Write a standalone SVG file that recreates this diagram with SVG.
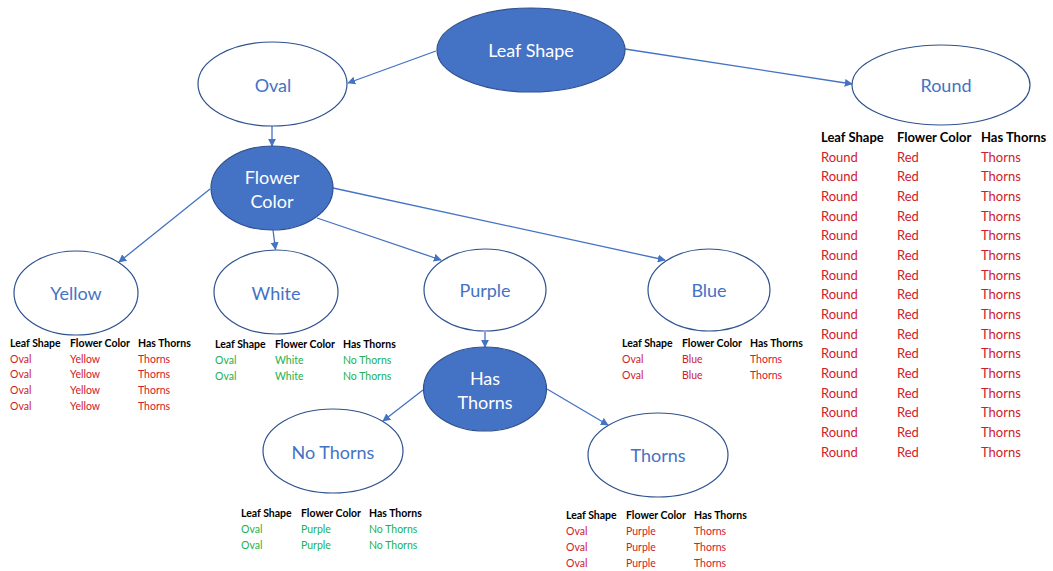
<svg xmlns="http://www.w3.org/2000/svg" width="1053" height="571" viewBox="0 0 1053 571">
<style>
.bg{fill:#ffffff}
.dark ellipse{fill:#4472C4;stroke:#2F528F;stroke-width:1.2}
.light ellipse{fill:#ffffff;stroke:#2F528F;stroke-width:1.2}
.dark text{fill:#ffffff;font-family:Lato,"Liberation Sans",sans-serif;font-size:18px;text-anchor:middle;dominant-baseline:central}
.light text{fill:#4472C4;font-family:Lato,"Liberation Sans",sans-serif;font-size:18px;text-anchor:middle;dominant-baseline:central}
.edges line{stroke:#4472C4;stroke-width:1.3;fill:none}
.tbl text{font-family:Lato,"Liberation Sans",sans-serif;dominant-baseline:central}
.s text{font-size:10.5px}
.b text{font-size:13px}
text.h{font-weight:bold;fill:#000000}
text.r{fill:#D0202A}
text.g{fill:#22B050}
</style>
<defs>
<marker id="arr" viewBox="0 0 10 10" refX="9" refY="5" markerWidth="8" markerHeight="8" markerUnits="userSpaceOnUse" orient="auto">
<path d="M0,0 L10,5 L0,10 z" fill="#4472C4"/>
</marker>
</defs>
<rect class="bg" x="0" y="0" width="1053" height="571"/>

<g id="connectors" class="edges">
<line x1="436" y1="51" x2="348" y2="83" marker-end="url(#arr)"/>
<line x1="625" y1="49" x2="852" y2="84" marker-end="url(#arr)"/>
<line x1="272" y1="126" x2="272" y2="146" marker-end="url(#arr)"/>
<line x1="210" y1="189" x2="119" y2="262" marker-end="url(#arr)"/>
<line x1="273" y1="230" x2="275.5" y2="249.5" marker-end="url(#arr)"/>
<line x1="317" y1="218" x2="441" y2="260" marker-end="url(#arr)"/>
<line x1="333" y1="188" x2="665" y2="260" marker-end="url(#arr)"/>
<line x1="485" y1="332" x2="485" y2="347" marker-end="url(#arr)"/>
<line x1="423" y1="390" x2="383" y2="421" marker-end="url(#arr)"/>
<line x1="547" y1="389" x2="608" y2="425" marker-end="url(#arr)"/>
</g>

<g id="leaf-shape" class="dark">
<ellipse cx="531" cy="50" rx="94" ry="42"/>
<text x="531" y="50">Leaf Shape</text>
</g>
<g id="oval" class="light">
<ellipse cx="272.5" cy="84" rx="74.5" ry="42"/>
<text x="273" y="85">Oval</text>
</g>
<g id="round" class="light">
<ellipse cx="941" cy="85" rx="89" ry="40"/>
<text x="946" y="85">Round</text>
</g>
<g id="flower-color" class="dark">
<ellipse cx="272" cy="188" rx="61" ry="42"/>
<text x="272" y="177">Flower</text>
<text x="272" y="201">Color</text>
</g>
<g id="yellow" class="light">
<ellipse cx="76" cy="293" rx="62" ry="42"/>
<text x="76" y="293">Yellow</text>
</g>
<g id="white" class="light">
<ellipse cx="276" cy="292" rx="62" ry="42"/>
<text x="276" y="293">White</text>
</g>
<g id="purple" class="light">
<ellipse cx="485" cy="290" rx="61" ry="41"/>
<text x="485" y="290">Purple</text>
</g>
<g id="blue" class="light">
<ellipse cx="709" cy="290" rx="61" ry="41"/>
<text x="709" y="290">Blue</text>
</g>
<g id="has-thorns" class="dark">
<ellipse cx="485" cy="389" rx="61.5" ry="42"/>
<text x="485" y="378">Has</text>
<text x="485" y="402">Thorns</text>
</g>
<g id="no-thorns" class="light">
<ellipse cx="333" cy="451" rx="70" ry="42"/>
<text x="333" y="452">No Thorns</text>
</g>
<g id="thorns" class="light">
<ellipse cx="658" cy="455" rx="70" ry="42"/>
<text x="658" y="455">Thorns</text>
</g>

<g id="table-yellow" class="tbl s">
<text class="h" x="10" y="343">Leaf Shape</text><text class="h" x="70" y="343">Flower Color</text><text class="h" x="138" y="343">Has Thorns</text>
<text class="r" x="10" y="359">Oval</text><text class="r" x="70" y="359">Yellow</text><text class="r" x="138" y="359">Thorns</text>
<text class="r" x="10" y="374">Oval</text><text class="r" x="70" y="374">Yellow</text><text class="r" x="138" y="374">Thorns</text>
<text class="r" x="10" y="390">Oval</text><text class="r" x="70" y="390">Yellow</text><text class="r" x="138" y="390">Thorns</text>
<text class="r" x="10" y="406">Oval</text><text class="r" x="70" y="406">Yellow</text><text class="r" x="138" y="406">Thorns</text>
</g>
<g id="table-white" class="tbl s">
<text class="h" x="215" y="344">Leaf Shape</text><text class="h" x="275" y="344">Flower Color</text><text class="h" x="343" y="344">Has Thorns</text>
<text class="g" x="215" y="360">Oval</text><text class="g" x="275" y="360">White</text><text class="g" x="343" y="360">No Thorns</text>
<text class="g" x="215" y="376">Oval</text><text class="g" x="275" y="376">White</text><text class="g" x="343" y="376">No Thorns</text>
</g>
<g id="table-blue" class="tbl s">
<text class="h" x="622" y="343">Leaf Shape</text><text class="h" x="682" y="343">Flower Color</text><text class="h" x="750" y="343">Has Thorns</text>
<text class="r" x="622" y="359">Oval</text><text class="r" x="682" y="359">Blue</text><text class="r" x="750" y="359">Thorns</text>
<text class="r" x="622" y="375">Oval</text><text class="r" x="682" y="375">Blue</text><text class="r" x="750" y="375">Thorns</text>
</g>
<g id="table-no-thorns" class="tbl s">
<text class="h" x="241" y="513">Leaf Shape</text><text class="h" x="301" y="513">Flower Color</text><text class="h" x="369" y="513">Has Thorns</text>
<text class="g" x="241" y="529">Oval</text><text class="g" x="301" y="529">Purple</text><text class="g" x="369" y="529">No Thorns</text>
<text class="g" x="241" y="545">Oval</text><text class="g" x="301" y="545">Purple</text><text class="g" x="369" y="545">No Thorns</text>
</g>
<g id="table-thorns" class="tbl s">
<text class="h" x="566" y="515">Leaf Shape</text><text class="h" x="626" y="515">Flower Color</text><text class="h" x="694" y="515">Has Thorns</text>
<text class="r" x="566" y="531">Oval</text><text class="r" x="626" y="531">Purple</text><text class="r" x="694" y="531">Thorns</text>
<text class="r" x="566" y="547">Oval</text><text class="r" x="626" y="547">Purple</text><text class="r" x="694" y="547">Thorns</text>
<text class="r" x="566" y="563">Oval</text><text class="r" x="626" y="563">Purple</text><text class="r" x="694" y="563">Thorns</text>
</g>
<g id="table-round" class="tbl b">
<text class="h" x="821" y="137">Leaf Shape</text><text class="h" x="897" y="137">Flower Color</text><text class="h" x="981" y="137">Has Thorns</text>
<text class="r" x="821" y="157">Round</text><text class="r" x="897" y="157">Red</text><text class="r" x="981" y="157">Thorns</text>
<text class="r" x="821" y="176">Round</text><text class="r" x="897" y="176">Red</text><text class="r" x="981" y="176">Thorns</text>
<text class="r" x="821" y="196">Round</text><text class="r" x="897" y="196">Red</text><text class="r" x="981" y="196">Thorns</text>
<text class="r" x="821" y="216">Round</text><text class="r" x="897" y="216">Red</text><text class="r" x="981" y="216">Thorns</text>
<text class="r" x="821" y="235">Round</text><text class="r" x="897" y="235">Red</text><text class="r" x="981" y="235">Thorns</text>
<text class="r" x="821" y="255">Round</text><text class="r" x="897" y="255">Red</text><text class="r" x="981" y="255">Thorns</text>
<text class="r" x="821" y="275">Round</text><text class="r" x="897" y="275">Red</text><text class="r" x="981" y="275">Thorns</text>
<text class="r" x="821" y="294">Round</text><text class="r" x="897" y="294">Red</text><text class="r" x="981" y="294">Thorns</text>
<text class="r" x="821" y="314">Round</text><text class="r" x="897" y="314">Red</text><text class="r" x="981" y="314">Thorns</text>
<text class="r" x="821" y="334">Round</text><text class="r" x="897" y="334">Red</text><text class="r" x="981" y="334">Thorns</text>
<text class="r" x="821" y="353">Round</text><text class="r" x="897" y="353">Red</text><text class="r" x="981" y="353">Thorns</text>
<text class="r" x="821" y="373">Round</text><text class="r" x="897" y="373">Red</text><text class="r" x="981" y="373">Thorns</text>
<text class="r" x="821" y="393">Round</text><text class="r" x="897" y="393">Red</text><text class="r" x="981" y="393">Thorns</text>
<text class="r" x="821" y="412">Round</text><text class="r" x="897" y="412">Red</text><text class="r" x="981" y="412">Thorns</text>
<text class="r" x="821" y="432">Round</text><text class="r" x="897" y="432">Red</text><text class="r" x="981" y="432">Thorns</text>
<text class="r" x="821" y="452">Round</text><text class="r" x="897" y="452">Red</text><text class="r" x="981" y="452">Thorns</text>
</g>
</svg>
